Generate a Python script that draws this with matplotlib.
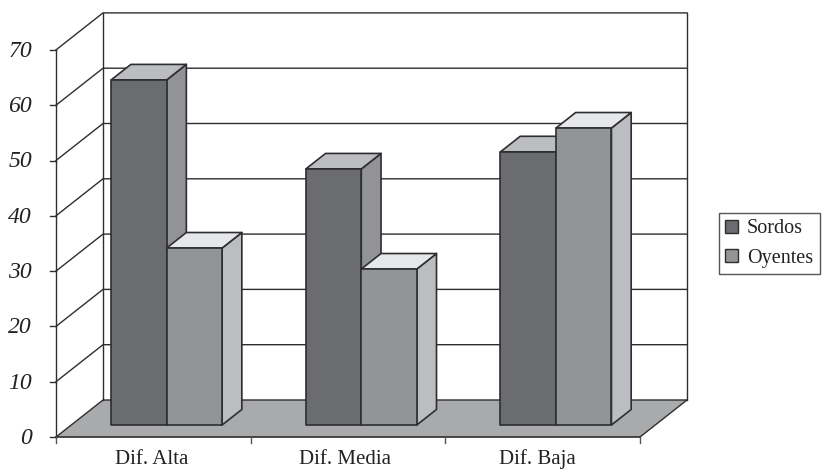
import matplotlib
matplotlib.use('Agg')
import matplotlib.pyplot as plt
from matplotlib.patches import Polygon, Patch

categorias = ['Dif. Alta', 'Dif. Media', 'Dif. Baja']
sordos = [62.4, 46.3, 49.4]
oyentes = [32.0, 28.2, 53.7]
marcas_y = [0, 10, 20, 30, 40, 50, 60, 70]

# escala de los ejes, en pixeles por unidad
PX_X = 194.67
PX_Y = 5.53
# desplazamiento de la profundidad, en unidades de cada eje
FONDO_X = 47 / PX_X
FONDO_Y = 37 / PX_Y
Z0 = 0.324
Z1 = 0.744
ANCHO = 0.285
INICIO = 0.205

LINEA = '#2e2e30'
plt.rcParams['font.family'] = ['Liberation Serif', 'DejaVu Serif']

fig = plt.figure(figsize=(8.25, 4.7), dpi=100)
ax = fig.add_axes([0, 0, 1, 1])
ax.set_xlim(-56 / PX_X, (825 - 56) / PX_X)
ax.set_ylim(-(470 - 437) / PX_Y, 437 / PX_Y)
ax.axis('off')


def proy(x, y, z):
    return (x + z * FONDO_X, y + z * FONDO_Y)


def cara(puntos, color, lw=1.2, zorder=3):
    ax.add_patch(Polygon([proy(*p) for p in puntos], closed=True, facecolor=color,
                         edgecolor=LINEA, linewidth=lw, joinstyle='round', zorder=zorder))


def barra(x, valor, frente, tapa, lado):
    x2 = x + ANCHO
    # cara lateral, tapa y frente
    cara([(x2, 0, Z0), (x2, 0, Z1), (x2, valor, Z1), (x2, valor, Z0)], lado)
    cara([(x, valor, Z0), (x2, valor, Z0), (x2, valor, Z1), (x, valor, Z1)], tapa)
    cara([(x, 0, Z0), (x2, 0, Z0), (x2, valor, Z0), (x, valor, Z0)], frente)


n = len(categorias)
tope = marcas_y[-1]

# suelo
ax.add_patch(Polygon([proy(0, 0, 0), proy(n, 0, 0), proy(n, 0, 1), proy(0, 0, 1)],
                     closed=True, facecolor='#a9aaac', edgecolor='none', zorder=1))

# paredes y rejilla
for v in marcas_y:
    xs, ys = zip(proy(0, v, 0), proy(0, v, 1), proy(n, v, 1))
    ax.plot(xs, ys, color=LINEA, lw=1.0, zorder=2)
    ax.plot([-6 / PX_X, 0], [v, v], color=LINEA, lw=1.0, zorder=2)
    ax.text(-24 / PX_X, v - 1.5 / PX_Y, str(v), ha='right', va='center', fontsize=17,
            style='italic', color='#222222')

for xs, ys in [zip(proy(0, 0, 0), proy(0, tope, 0)),
               zip(proy(0, 0, 1), proy(0, tope, 1)),
               zip(proy(n, 0, 1), proy(n, tope, 1)),
               zip(proy(n, 0, 0), proy(n, 0, 1))]:
    ax.plot(xs, ys, color=LINEA, lw=1.0, zorder=2)

# eje de categorias
ax.plot([0, n], [0, 0], color=LINEA, lw=1.2, zorder=2)
for i in range(n + 1):
    ax.plot([i, i], [0, -6 / PX_Y], color='#555555', lw=1.0, zorder=2)
for i, c in enumerate(categorias):
    ax.text(i + 0.49 - 0.008 * i, -22.5 / PX_Y, c, ha='center', va='center', fontsize=15,
            color='#222222')

# barras
for i in range(n):
    x = i + INICIO
    barra(x, sordos[i], '#6b6c6f', '#bcbdc0', '#929396')
    barra(x + ANCHO, oyentes[i], '#939496', '#e6e7e8', '#bcbdc0')

leyenda = ax.legend(handles=[Patch(facecolor='#6b6c6f', edgecolor=LINEA, label='Sordos'),
                             Patch(facecolor='#939496', edgecolor=LINEA, label='Oyentes')],
                    loc='center left', bbox_to_anchor=(719 / 825, 1 - 243.5 / 470), fontsize=14.5,
                    frameon=True, fancybox=False, framealpha=1, edgecolor='#555555',
                    borderaxespad=0, borderpad=0.32, handlelength=0.62, handleheight=0.62,
                    handletextpad=0.45, labelspacing=0.5)
leyenda.get_frame().set_linewidth(1.0)
for t in leyenda.get_texts():
    t.set_color('#222222')

fig.savefig('out.png', dpi=100)
